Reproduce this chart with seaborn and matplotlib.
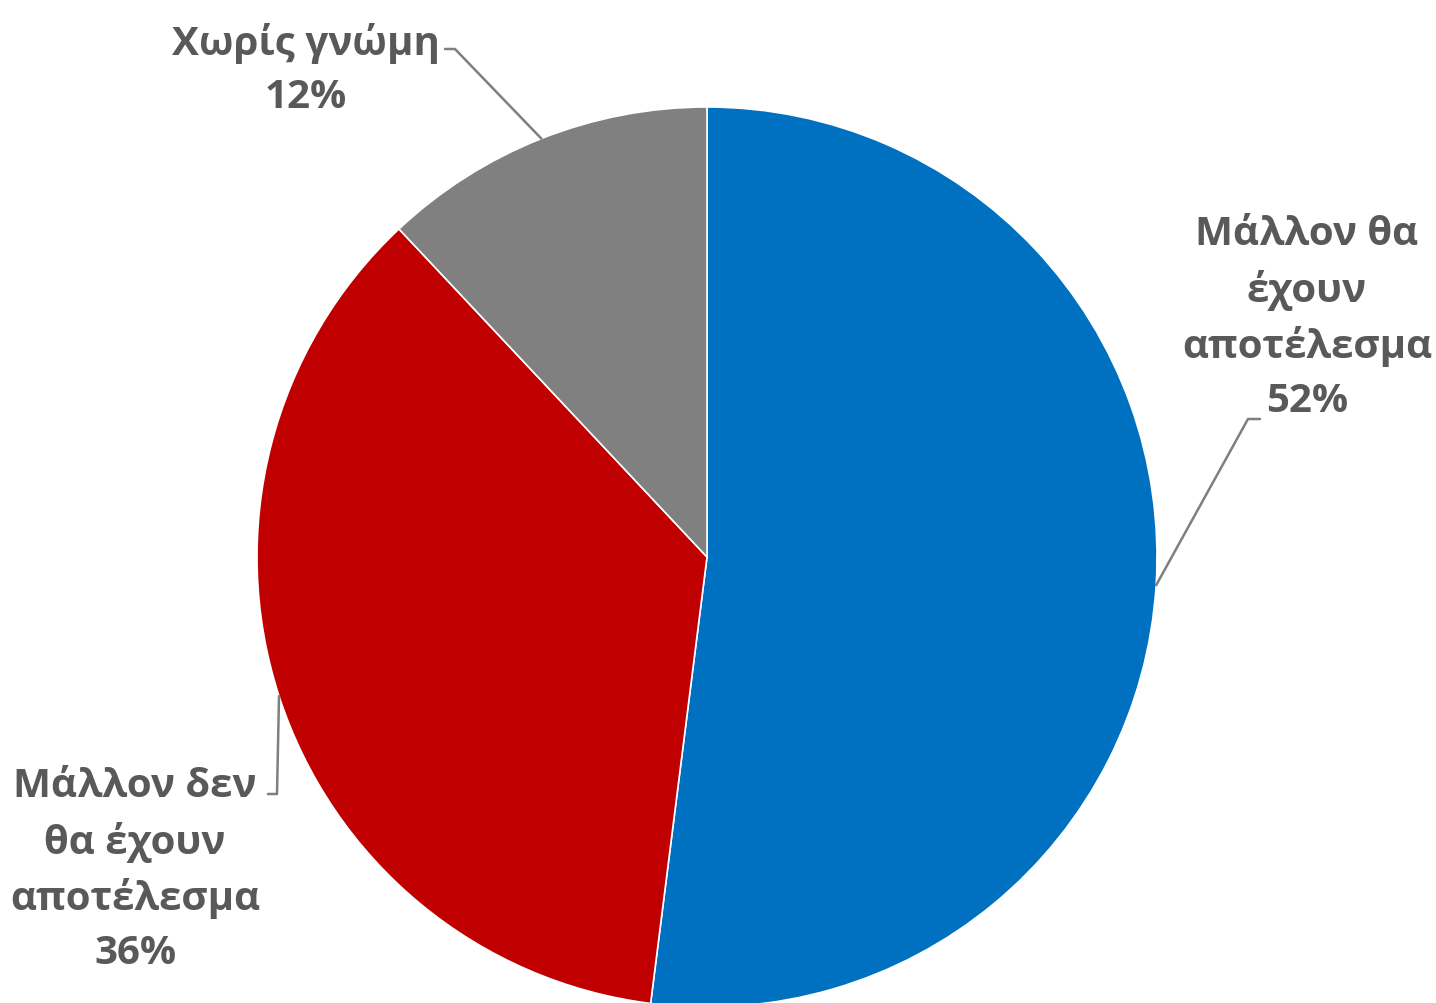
import numpy as np
import seaborn as sns
import matplotlib
matplotlib.use("Agg")
import matplotlib.pyplot as plt

sns.set_theme(style="white")
plt.rcParams['font.family'] = ['Open Sans', 'DejaVu Sans']

labels = ["Μάλλον θα\nέχουν\nαποτέλεσμα", "Μάλλον δεν\nθα έχουν\nαποτέλεσμα", "Χωρίς γνώμη"]
values = [52, 36, 12]
colors = ["#0070C0", "#C00000", "#808080"]

W, H = 1436, 1004
fig = plt.figure(figsize=(W / 100, H / 100), dpi=100)
# pie centre ~ (707, 558) px, radius 450 px
cx, cy, R = 707, 558, 450
ax = fig.add_axes([(cx - R) / W, (H - cy - R) / H, 2 * R / W, 2 * R / H])

wedges, _ = ax.pie(values, colors=colors, startangle=90, counterclock=False,
                   radius=1, wedgeprops=dict(edgecolor="white", linewidth=1.2))
ax.set_xlim(-1, 1)
ax.set_ylim(-1, 1)
ax.axis("off")

def px(x, y):
    # pixel position -> data coordinates of the pie axes
    return (x - cx) / R, (cy - y) / R

# label centre (px) and elbow of the leader line (px)
text_pos = [(1307, 318), (135, 870), (306, 70)]
elbows = [[(1248, 420), (1260, 420)], [(277, 795), (268, 795)], [(455, 50), (445, 50)]]

for w, lab, v, tp, el in zip(wedges, labels, values, text_pos, elbows):
    mid = np.deg2rad((w.theta1 + w.theta2) / 2)
    pts = [(np.cos(mid), np.sin(mid))] + [px(*p) for p in el]
    xs, ys = zip(*pts)
    ax.plot(xs, ys, color="#7F7F7F", lw=1.8, clip_on=False)
    tx, ty = px(*tp)
    ax.text(tx, ty, f"{lab}\n{v}%", ha="center", va="center", fontsize=29,
            fontweight="bold", color="#595959", linespacing=1.49, clip_on=False)

fig.savefig("out.png", dpi=100)
